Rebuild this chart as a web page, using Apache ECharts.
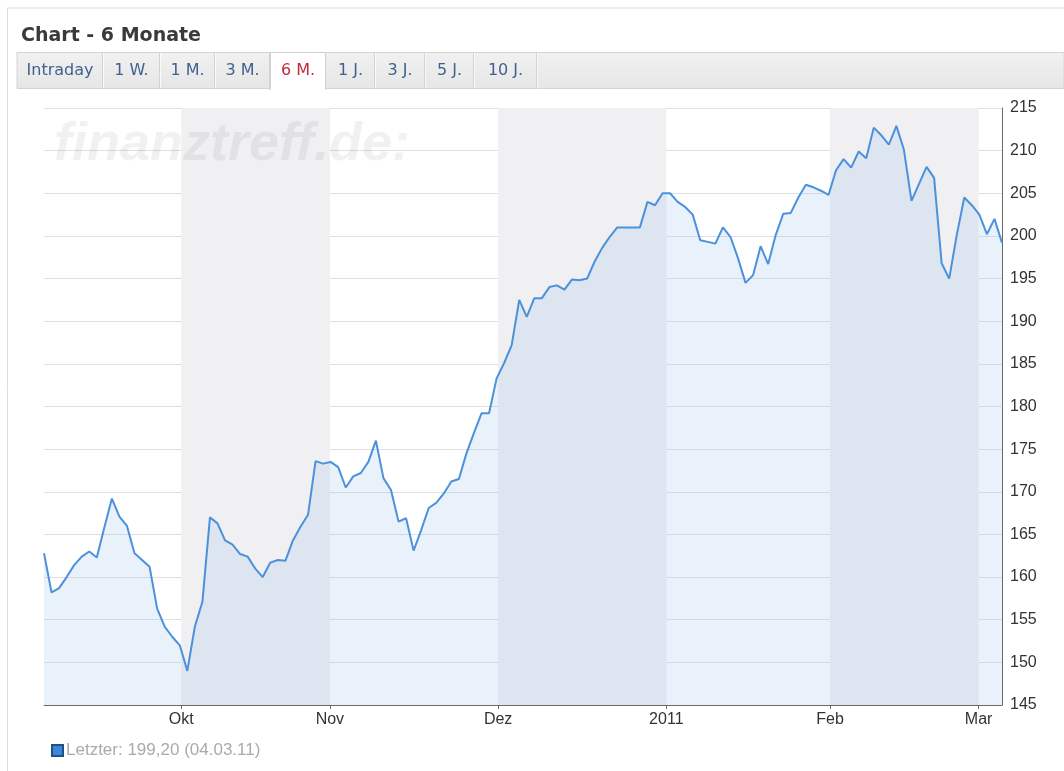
<!DOCTYPE html>
<html>
<head>
<meta charset="utf-8">
<title>Chart - 6 Monate</title>
<script src="https://cdn.jsdelivr.net/npm/echarts@6/dist/echarts.min.js"></script>
<style>
  html, body { margin: 0; padding: 0; background: #fff; }
  #chart { width: 1064px; height: 771px; }
</style>
</head>
<body>
<div id="chart"></div>
<script>
// Schlusskurse, ein Wert pro Handelstag (06.09.10 - 04.03.11)
var kurse = [
  162.8, 158.2, 158.7, 160.0, 161.4, 162.4, 163.0, 162.3, 165.8, 169.2,
  167.1, 166.0, 162.8, 162.0, 161.2, 156.3, 154.2, 153.0, 152.0, 149.0,
  154.2, 157.1, 167.0, 166.3, 164.3, 163.8, 162.7, 162.4, 161.0, 160.0,
  161.7, 162.0, 161.9, 164.3, 165.9, 167.3, 173.6, 173.3, 173.5, 172.9,
  170.5, 171.8, 172.2, 173.5, 176.0, 171.6, 170.2, 166.5, 166.9, 163.1,
  165.5, 168.1, 168.7, 169.8, 171.2, 171.5, 174.5, 176.9, 179.2, 179.2,
  183.3, 185.1, 187.2, 192.5, 190.5, 192.7, 192.7, 194.0, 194.2, 193.7,
  194.9, 194.8, 195.0, 197.0, 198.6, 199.9, 201.0, 201.0, 201.0, 201.0,
  204.0, 203.6, 205.0, 205.0, 204.0, 203.4, 202.5, 199.5, 199.3, 199.1,
  201.0, 199.9, 197.4, 194.5, 195.4, 198.8, 196.7, 200.1, 202.6, 202.7,
  204.5, 206.0, 205.7, 205.3, 204.8, 207.7, 209.0, 208.0, 209.9, 209.1,
  212.7, 211.8, 210.7, 212.9, 210.1, 204.1, 206.1, 208.1, 206.8, 196.8,
  195.0, 200.1, 204.5, 203.6, 202.5, 200.2, 202.0, 199.2
];

// Monatsmarken (Position auf der Handelstag-Achse) und ihre Beschriftung
var monatsPos = [18.2, 37.9, 60.2, 82.5, 104.2, 123.9];
var monatsText = ['Okt', 'Nov', 'Dez', '2011', 'Feb', 'Mar'];

// grau hinterlegte Monate: [von, bis]
var baender = [[18.2, 37.9], [60.2, 82.5], [104.2, 123.9]];

var tabs = ['Intraday', '1 W.', '1 M.', '3 M.', '6 M.', '1 J.', '3 J.', '5 J.', '10 J.'];
var tabAktiv = 4;
var letzterDatum = '04.03.11';

var myChart = echarts.init(document.getElementById('chart'));
window.onresize = myChart.resize;

var punkte = kurse.map(function (v, i) { return [i, v]; });
var letzter = kurse[kurse.length - 1].toFixed(2).replace('.', ',');
var serienName = 'Letzter: ' + letzter + ' (' + letzterDatum + ')';

// Reiterleiste
var tabBreiten = [86, 57, 55, 55, 56, 49, 50, 49, 63];
var grafik = [
  { type: 'line', shape: { x1: 7, y1: 8, x2: 1064, y2: 8 }, style: { stroke: '#dcdcdc', lineWidth: 1 } },
  { type: 'line', shape: { x1: 7.5, y1: 8, x2: 7.5, y2: 771 }, style: { stroke: '#dcdcdc', lineWidth: 1 } },
  {
    type: 'rect', shape: { x: 17, y: 52.5, width: 1047, height: 36 },
    style: {
      fill: new echarts.graphic.LinearGradient(0, 0, 0, 1, [
        { offset: 0, color: '#f1f1f1' }, { offset: 1, color: '#e6e6e6' }
      ]),
      stroke: '#d4d4d4', lineWidth: 1
    }
  }
];
var tx = 17;
tabs.forEach(function (t, i) {
  var w = tabBreiten[i];
  if (i === tabAktiv) {
    grafik.push({ type: 'rect', shape: { x: tx, y: 52.5, width: w, height: 38 },
      style: { fill: '#ffffff', stroke: null } });
    grafik.push({ type: 'polyline', shape: { points: [[tx + 0.5, 90], [tx + 0.5, 52.5], [tx + w - 0.5, 52.5], [tx + w - 0.5, 90]] },
      style: { stroke: '#d0d0d0', fill: null, lineWidth: 1 } });
  } else {
    grafik.push({ type: 'line', shape: { x1: tx + w - 0.5, y1: 53, x2: tx + w - 0.5, y2: 88 },
      style: { stroke: '#d2d2d2', lineWidth: 1 } });
    grafik.push({ type: 'line', shape: { x1: tx + w + 0.5, y1: 53, x2: tx + w + 0.5, y2: 88 },
      style: { stroke: '#fafafa', lineWidth: 1 } });
  }
  grafik.push({
    type: 'text', x: tx + w / 2, y: 71,
    style: {
      text: t, align: 'center', verticalAlign: 'middle',
      font: '16px "DejaVu Sans"', fill: i === tabAktiv ? '#c4283c' : '#3f6290'
    }
  });
  tx += w;
});
// Wasserzeichen
grafik.push({
  type: 'text', left: 54, top: 118, z: 100, silent: true,
  style: { text: 'finanztreff.de:', font: 'italic bold 54px "Liberation Sans", Arial', fill: 'rgba(0,0,0,0.055)' }
});

var option = {
  backgroundColor: '#fff',
  animation: false,
  title: {
    text: 'Chart - 6 Monate',
    left: 16, top: 22,
    textStyle: { fontFamily: 'DejaVu Sans', fontSize: 19, fontWeight: 'bold', color: '#3a3a3a' }
  },
  graphic: grafik,
  legend: {
    left: 46, top: 737,
    icon: 'rect', itemWidth: 11, itemHeight: 11, itemGap: 4,
    data: [serienName],
    textStyle: { color: '#aaaaaa', fontSize: 17, fontFamily: 'Liberation Sans', padding: [0, 0, 0, -2] }
  },
  grid: { left: 44, right: 62, top: 108, bottom: 66 },
  xAxis: {
    type: 'value', min: 0, max: kurse.length - 1,
    axisLine: { onZero: false, lineStyle: { color: '#6a6a6a', width: 1 } },
    axisTick: { show: true, length: 4, customValues: monatsPos, lineStyle: { color: '#6a6a6a' } },
    axisLabel: {
      customValues: monatsPos, color: '#333', fontSize: 16, margin: 7,
      fontFamily: 'Liberation Sans',
      formatter: function (v) {
        var best = 0;
        monatsPos.forEach(function (p, i) { if (Math.abs(p - v) < Math.abs(monatsPos[best] - v)) best = i; });
        return monatsText[best];
      }
    },
    splitLine: { show: false }
  },
  yAxis: {
    type: 'value', position: 'right', min: 145, max: 215, interval: 5,
    axisLine: { show: true, onZero: false, lineStyle: { color: '#6a6a6a', width: 1 } },
    axisTick: { show: false },
    axisLabel: { color: '#333', fontSize: 16, margin: 8, fontFamily: 'Liberation Sans' },
    splitLine: { lineStyle: { color: '#e0e0e0', width: 1 } }
  },
  series: [
    {
      name: 'baender', type: 'line', data: [], z: 1, silent: true,
      markArea: {
        silent: true,
        itemStyle: { color: '#f0f0f2' },
        data: baender.map(function (b) { return [{ xAxis: b[0] }, { xAxis: b[1] }]; })
      }
    },
    {
      name: serienName, type: 'line', data: punkte, z: 3,
      symbol: 'none',
      itemStyle: { color: '#3f86d6', borderColor: '#1d4f8a', borderWidth: 1 },
      lineStyle: { color: '#4b91db', width: 2 },
      areaStyle: { color: 'rgba(150,190,235,0.3)' }
    }
  ]
};

myChart.setOption(option);
</script>
</body>
</html>
